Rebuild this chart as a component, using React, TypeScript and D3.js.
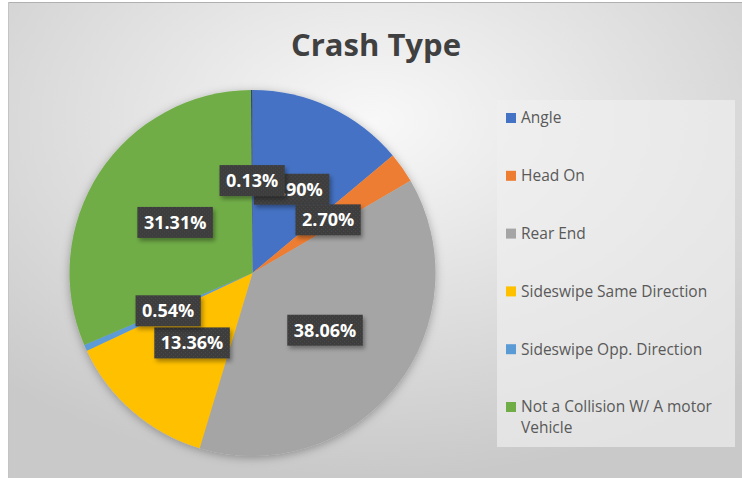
import React, { useEffect, useRef } from "react";
import * as d3 from "d3";

const categories = [
  "Angle",
  "Head On",
  "Rear End",
  "Sideswipe Same Direction",
  "Sideswipe Opp. Direction",
  "Not a Collision W/ A motor Vehicle",
  "Other",
];
const values = [13.9, 2.7, 38.06, 13.36, 0.54, 31.31, 0.13];
const colors = ["#4472C4", "#ED7D31", "#A5A5A5", "#FFC000", "#5B9BD5", "#70AD47", "#264478"];
const inLegend = [true, true, true, true, true, true, false];
const title = "Crash Type";

const W = 742;
const H = 478;

function wrap(s: string, max: number): string[] {
  const words = s.split(" ");
  const lines: string[] = [];
  let cur = "";
  for (const w of words) {
    const t = cur ? cur + " " + w : w;
    if (t.length > max && cur) {
      lines.push(cur);
      cur = w;
    } else cur = t;
  }
  if (cur) lines.push(cur);
  return lines;
}

export default function App() {
  const ref = useRef<SVGSVGElement | null>(null);
  useEffect(() => {
    const svg = d3.select(ref.current);
    svg.selectAll("*").remove();
    const defs = svg.append("defs");
    const bg = defs
      .append("radialGradient")
      .attr("id", "bg")
      .attr("cx", "50%")
      .attr("cy", "25%")
      .attr("r", "75%");
    bg.append("stop").attr("offset", "0%").attr("stop-color", "#f8f8f8");
    bg.append("stop").attr("offset", "100%").attr("stop-color", "#c9c9c9");
    const sh = defs.append("filter").attr("id", "pieSh").attr("x", "-20%").attr("y", "-20%").attr("width", "140%").attr("height", "140%");
    sh.append("feDropShadow").attr("dx", 0).attr("dy", 2).attr("stdDeviation", 5).attr("flood-color", "#000").attr("flood-opacity", 0.3);
    const lsh = defs.append("filter").attr("id", "lblSh").attr("x", "-20%").attr("y", "-30%").attr("width", "150%").attr("height", "170%");
    lsh.append("feDropShadow").attr("dx", 2).attr("dy", 3).attr("stdDeviation", 2).attr("flood-color", "#000").attr("flood-opacity", 0.35);
    const pat = defs.append("pattern").attr("id", "dots").attr("width", 4).attr("height", 4).attr("patternUnits", "userSpaceOnUse");
    pat.append("rect").attr("width", 4).attr("height", 4).attr("fill", "#3d3d3d");
    pat.append("rect").attr("x", 1).attr("y", 1).attr("width", 1).attr("height", 1).attr("fill", "#4d4d4d");
    pat.append("rect").attr("x", 3).attr("y", 3).attr("width", 1).attr("height", 1).attr("fill", "#4d4d4d");

    // chart frame
    svg.append("rect").attr("x", 8).attr("y", 2).attr("width", W - 8).attr("height", H - 2).attr("fill", "url(#bg)");
    svg.append("line").attr("x1", 8).attr("x2", W).attr("y1", 2.5).attr("y2", 2.5).attr("stroke", "#b0b0b0").attr("stroke-width", 1);
    svg.append("line").attr("x1", 8.5).attr("x2", 8.5).attr("y1", 2).attr("y2", H).attr("stroke", "#c4c4c4").attr("stroke-width", 1);

    // title
    svg
      .append("text")
      .attr("x", 376)
      .attr("y", 56)
      .attr("text-anchor", "middle")
      .attr("font-family", "'Open Sans', sans-serif")
      .attr("font-weight", 700)
      .attr("font-size", 31)
      .attr("fill", "#404040")
      .text(title);

    // pie
    const cx = 252.5;
    const cy = 273;
    const r = 183;
    const pie = d3.pie<number>().sort(null).value((d) => d);
    const arcs = pie(values);
    const arc = d3.arc<d3.PieArcDatum<number>>().innerRadius(0).outerRadius(r);
    const g = svg.append("g").attr("transform", `translate(${cx},${cy})`);
    const pg = g.append("g").attr("filter", "url(#pieSh)");
    pg.selectAll("path")
      .data(arcs)
      .join("path")
      .attr("d", arc)
      .attr("fill", (_d, i) => colors[i]);

    // labels
    const lblArc = d3.arc<d3.PieArcDatum<number>>().innerRadius(0).outerRadius(r * 1.01);
    arcs.forEach((a, i) => {
      const [x, y] = lblArc.centroid(a);
      const lg = g.append("g").attr("transform", `translate(${x},${y})`);
      const rect = lg.append("rect").attr("fill", "url(#dots)").attr("filter", "url(#lblSh)");
      const t = lg
        .append("text")
        .attr("text-anchor", "middle")
        .attr("dy", "0.36em")
        .attr("font-family", "'Open Sans', sans-serif")
        .attr("font-weight", 700)
        .attr("font-size", 18)
        .attr("fill", "#ffffff")
        .text(values[i].toFixed(2) + "%");
      const w = (t.node() as SVGTextElement).getComputedTextLength() + 13;
      const h = 31;
      rect.attr("x", -w / 2).attr("y", -h / 2).attr("width", w).attr("height", h);
    });

    // legend
    svg
      .append("rect")
      .attr("x", 497)
      .attr("y", 100)
      .attr("width", 238)
      .attr("height", 347)
      .attr("fill", "#f0f0f0")
      .attr("fill-opacity", 0.65);
    const items = categories.map((c, i) => ({ c, i })).filter((d) => inLegend[d.i]);
    const ly = d3.scalePoint<number>().domain(items.map((d) => d.i)).range([118, 407]);
    items.forEach(({ c, i }) => {
      const y = ly(i) as number;
      svg.append("rect").attr("x", 506).attr("y", y - 5).attr("width", 10).attr("height", 10).attr("fill", colors[i]);
      const lines = wrap(c, 26);
      lines.forEach((ln, k) => {
        svg
          .append("text")
          .attr("x", 521)
          .attr("y", y + k * 21)
          .attr("dy", "0.35em")
          .attr("font-family", "'Open Sans', sans-serif")
          .attr("font-size", 15.5)
          .attr("fill", "#595959")
          .text(ln);
      });
    });
  }, []);
  return (
    <div style={{ position: "absolute", left: 0, top: 0 }}>
      <svg ref={ref} width={W} height={H} style={{ display: "block" }} />
    </div>
  );
}
